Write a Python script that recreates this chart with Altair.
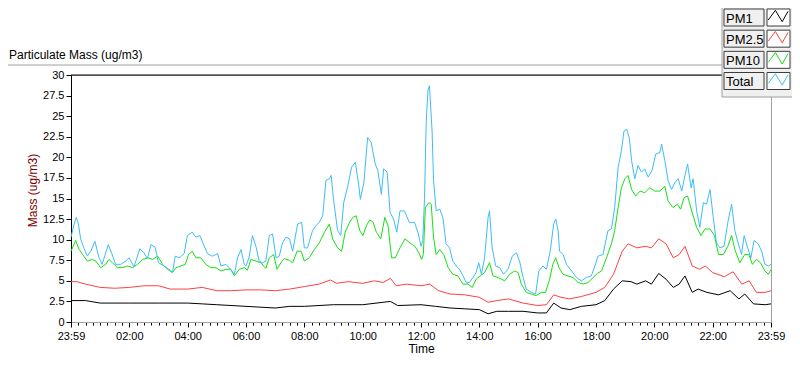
import altair as alt
import pandas as pd

SERIES = ["PM1", "PM2.5", "PM10", "Total"]
COLORS = ["#000000", "#ff4040", "#14e014", "#3dbdf7"]

TITLE = "Particulate Mass (ug/m3)"
X_TITLE = "Time"
Y_TITLE = "Mass (ug/m3)"

# hours since 23:59 of the previous day
PM1_T = [0, 0.5, 1.0, 2.0, 3.0, 4.0, 4.5, 5.0, 6.0, 7.0, 7.5, 8.0, 9.0, 10.0, 10.95, 11.2,
         12.0, 12.5, 13.0, 13.5, 14.0, 14.3, 14.6, 15.0, 15.5, 16.0, 16.3, 16.55, 16.8, 17.1,
         17.5, 18.0, 18.3, 18.6, 18.9, 19.2, 19.4, 19.7, 19.9, 20.15, 20.4, 20.65, 20.85,
         21.05, 21.3, 21.5, 21.8, 22.2, 22.6, 22.9, 23.1, 23.4, 23.8, 24]
PM1_V = [2.6, 2.6, 2.3, 2.3, 2.3, 2.3, 2.2, 2.1, 1.9, 1.7, 1.9, 1.9, 2.1, 2.1, 2.5, 2.0,
         2.1, 1.9, 1.7, 1.6, 1.5, 1.0, 1.3, 1.3, 1.3, 1.1, 1.1, 2.3, 1.7, 1.5,
         1.9, 2.1, 2.6, 4.0, 5.0, 4.9, 4.6, 5.0, 4.6, 5.9, 5.2, 4.2, 4.6,
         5.6, 3.6, 4.0, 3.6, 3.3, 3.8, 2.8, 3.4, 2.2, 2.1, 2.2]

PM25_T = [0, 0.2, 0.5, 1.0, 1.5, 2.0, 2.5, 3.0, 3.4, 4.0, 4.5, 5.0, 5.5, 6.0, 6.5, 7.0, 7.5,
          8.0, 8.5, 8.9, 9.1, 9.5, 10.0, 10.4, 10.7, 10.95, 11.15, 11.5, 12.0, 12.3, 12.6,
          13.0, 13.5, 14.0, 14.3, 14.6, 15.0, 15.5, 16.0, 16.3, 16.55, 16.8, 17.1, 17.5,
          18.0, 18.3, 18.6, 18.9, 19.1, 19.4, 19.7, 19.9, 20.15, 20.4, 20.65, 20.85, 21.05,
          21.3, 21.55, 21.75, 22.0, 22.4, 22.7, 23.0, 23.25, 23.5, 23.8, 24]
PM25_V = [4.9, 4.9, 4.6, 4.2, 4.1, 4.2, 4.4, 4.4, 4.0, 4.0, 4.2, 3.8, 3.8, 3.9, 3.9, 3.8, 4.0,
          4.3, 4.6, 5.1, 4.7, 4.9, 4.7, 5.0, 4.8, 5.3, 4.4, 4.6, 4.4, 4.6, 3.8,
          3.4, 3.3, 3.0, 2.4, 2.6, 2.8, 2.3, 2.0, 2.1, 3.3, 3.0, 2.8, 3.1,
          3.6, 4.2, 5.8, 8.6, 9.5, 9.0, 9.2, 9.0, 10.1, 9.5, 7.8, 8.2, 9.2,
          6.8, 6.4, 6.8, 6.0, 5.5, 6.1, 4.6, 5.0, 3.6, 3.6, 3.8]

PM10_T = [0, 0.16, 0.28, 0.4, 0.56, 0.73, 0.85, 1.02, 1.19, 1.3, 1.42, 1.59, 1.76, 1.94, 2.11,
          2.28, 2.46, 2.63, 2.8, 2.97, 3.14, 3.31, 3.48, 3.6, 3.77, 3.92, 4.03, 4.16, 4.28,
          4.45, 4.62, 4.8, 4.97, 5.14, 5.31, 5.48, 5.6, 5.77, 5.94, 6.05, 6.17, 6.34, 6.51,
          6.68, 6.8, 6.95, 7.06, 7.2, 7.31, 7.49, 7.6, 7.75, 7.89, 8.0, 8.17, 8.34, 8.51,
          8.69, 8.86, 8.97, 9.14, 9.28, 9.4, 9.55, 9.66, 9.78, 9.9, 10.01, 10.13, 10.24,
          10.36, 10.47, 10.62, 10.76, 10.87, 10.99, 11.12, 11.28, 11.45, 11.62, 11.79, 11.93,
          12.02, 12.08, 12.15, 12.27, 12.35, 12.43, 12.52, 12.64, 12.78, 12.93, 13.09, 13.26,
          13.44, 13.61, 13.76, 13.89, 14.03, 14.18, 14.35, 14.47, 14.64, 14.87, 15.04, 15.21,
          15.33, 15.44, 15.61, 15.78, 15.95, 16.12, 16.27, 16.41, 16.52, 16.62, 16.73, 16.87,
          17.04, 17.21, 17.39, 17.56, 17.73, 17.9, 18.05, 18.19, 18.36, 18.53, 18.64, 18.76,
          18.87, 18.99, 19.1, 19.22, 19.36, 19.51, 19.67, 19.84, 20.02, 20.19, 20.36, 20.47,
          20.64, 20.79, 20.9, 21.02, 21.14, 21.28, 21.45, 21.6, 21.74, 21.91, 22.06, 22.2,
          22.37, 22.52, 22.65, 22.76, 22.93, 23.1, 23.24, 23.36, 23.5, 23.64, 23.79, 23.91, 24]
PM10_V = [8.6, 9.9, 8.8, 8.2, 7.4, 7.6, 7.4, 6.6, 7.0, 7.6, 7.2, 6.6, 6.6, 6.8, 6.6,
          7.0, 7.6, 7.8, 7.6, 8.0, 7.0, 6.4, 6.0, 6.6, 6.8, 7.0, 8.2, 8.6, 7.8,
          7.8, 7.0, 6.6, 6.6, 6.2, 6.4, 6.4, 5.6, 6.4, 6.6, 6.3, 7.6, 7.4, 7.2,
          6.5, 7.8, 8.2, 6.4, 7.2, 7.7, 7.5, 7.2, 8.6, 8.6, 7.4, 7.8, 8.8, 9.6,
          10.9, 11.9, 10.1, 9.0, 8.6, 10.9, 12.1, 12.7, 12.9, 11.1, 10.5, 11.7, 12.4,
          12.1, 10.9, 10.1, 12.7, 11.7, 7.8, 7.8, 9.0, 10.1, 9.6, 9.2, 8.4,
          7.6, 8.2, 13.9, 14.5, 14.3, 10.3, 8.2, 8.8, 8.2, 6.6, 5.8, 5.6,
          4.6, 4.6, 4.2, 5.2, 5.6, 6.0, 7.2, 5.6, 5.4, 5.0, 5.8, 6.2,
          6.0, 4.6, 3.6, 3.4, 3.2, 3.6, 3.6, 5.2, 7.0, 7.8, 6.6, 5.8,
          5.6, 5.4, 4.8, 4.6, 4.8, 5.4, 5.9, 6.2, 7.8, 9.5, 11.1, 13.9,
          16.3, 17.4, 17.8, 16.1, 15.3, 15.9, 15.7, 16.3, 15.9, 15.9, 16.5, 14.7,
          13.9, 14.3, 13.7, 15.1, 15.3, 13.5, 11.5, 10.5, 11.3, 11.3, 10.5, 8.2,
          8.2, 9.2, 10.5, 8.8, 7.2, 8.2, 8.2, 7.0, 7.6, 7.2, 6.2, 5.8, 6.4]

TOTAL_T = [0, 0.1, 0.18, 0.25, 0.33, 0.45, 0.56, 0.68, 0.82, 0.96, 1.07, 1.19, 1.28, 1.4, 1.53,
           1.7, 1.88, 1.99, 2.16, 2.36, 2.5, 2.62, 2.74, 2.88, 3.0, 3.19, 3.36, 3.48, 3.57,
           3.71, 3.88, 3.99, 4.16, 4.28, 4.42, 4.57, 4.68, 4.85, 5.03, 5.14, 5.31, 5.42, 5.6,
           5.71, 5.83, 5.94, 6.0, 6.11, 6.22, 6.34, 6.45, 6.57, 6.68, 6.8, 6.91, 7.03, 7.14,
           7.25, 7.37, 7.49, 7.6, 7.77, 7.91, 8.0, 8.11, 8.28, 8.4, 8.51, 8.63, 8.74, 8.86,
           8.92, 9.0, 9.14, 9.25, 9.35, 9.49, 9.62, 9.75, 9.87, 9.92, 10.04, 10.17, 10.29,
           10.43, 10.52, 10.64, 10.72, 10.84, 10.94, 11.06, 11.17, 11.28, 11.43, 11.6, 11.78,
           11.91, 12.0, 12.06, 12.12, 12.18, 12.24, 12.29, 12.38, 12.43, 12.52, 12.64, 12.75,
           12.86, 12.98, 13.09, 13.21, 13.32, 13.44, 13.55, 13.66, 13.78, 13.89, 13.98, 14.07,
           14.18, 14.3, 14.35, 14.44, 14.56, 14.7, 14.83, 14.98, 15.13, 15.27, 15.38, 15.5,
           15.61, 15.78, 15.93, 16.04, 16.18, 16.3, 16.43, 16.55, 16.62, 16.7, 16.75, 16.87,
           16.99, 17.16, 17.33, 17.5, 17.67, 17.84, 17.96, 18.07, 18.24, 18.41, 18.53, 18.64,
           18.76, 18.87, 18.96, 19.05, 19.14, 19.22, 19.33, 19.44, 19.56, 19.67, 19.79, 19.92,
           20.05, 20.19, 20.25, 20.36, 20.47, 20.59, 20.7, 20.82, 20.94, 21.05, 21.14, 21.26,
           21.33, 21.45, 21.56, 21.68, 21.79, 21.91, 22.02, 22.13, 22.25, 22.39, 22.53, 22.65,
           22.76, 22.88, 22.99, 23.08, 23.2, 23.31, 23.42, 23.56, 23.68, 23.79, 23.91, 24]
TOTAL_V = [10.3, 11.8, 12.7, 12.0, 10.1, 8.9, 8.0, 8.6, 9.8, 7.8, 7.0, 8.4, 9.4, 8.3, 7.0,
           7.0, 7.4, 7.8, 6.7, 8.9, 8.4, 7.7, 9.4, 9.1, 7.2, 6.8, 6.4, 6.0, 8.0,
           7.8, 8.3, 10.5, 10.9, 10.3, 10.5, 9.2, 8.3, 8.0, 8.3, 6.8, 7.0, 6.6, 5.8,
           7.8, 8.8, 7.0, 6.8, 7.9, 10.5, 9.2, 7.4, 7.2, 7.4, 10.5, 10.7, 7.8, 8.0,
           9.6, 10.3, 10.1, 8.6, 11.9, 12.1, 9.0, 9.0, 11.1, 11.7, 12.1, 12.9, 17.2, 17.4,
           17.8, 14.9, 11.1, 10.5, 14.5, 16.5, 18.8, 19.4, 16.5, 14.9, 16.9, 22.4, 21.8,
           19.2, 18.4, 15.5, 18.6, 18.2, 13.3, 12.5, 10.9, 13.5, 13.5, 12.1, 12.1,
           10.7, 9.2, 9.9, 15.0, 24.5, 28.2, 28.7, 23.2, 17.2, 13.5, 13.7, 12.7,
           9.5, 9.0, 7.4, 6.8, 6.4, 5.6, 4.8, 4.8, 5.4, 6.0, 7.2, 5.8,
           7.8, 12.7, 13.5, 9.0, 6.8, 6.6, 5.8, 6.4, 8.0, 8.4, 7.4, 5.4,
           4.0, 3.6, 3.4, 6.2, 6.8, 6.4, 8.6, 11.9, 12.5, 11.1, 8.6, 8.2,
           7.0, 6.2, 5.4, 5.0, 5.4, 5.6, 6.8, 8.0, 8.2, 11.1, 11.3, 13.9,
           18.8, 20.8, 23.2, 23.4, 22.4, 19.6, 17.4, 19.0, 18.2, 18.6, 17.6, 18.4,
           20.4, 20.6, 21.6, 19.6, 17.2, 16.1, 16.9, 17.4, 15.9, 17.8, 19.2, 16.3,
           17.4, 13.5, 11.5, 14.5, 14.3, 16.1, 12.7, 9.6, 9.0, 9.2, 12.3, 14.3,
           11.1, 9.5, 8.2, 10.5, 9.0, 7.8, 9.9, 9.5, 8.6, 7.0, 6.8, 7.0]

X_TICKS = [i * 0.25 for i in range(97)]
Y_TICKS = [i * 2.5 for i in range(13)]

rows = []
for name, ts, vs in [("PM1", PM1_T, PM1_V), ("PM2.5", PM25_T, PM25_V),
                     ("PM10", PM10_T, PM10_V), ("Total", TOTAL_T, TOTAL_V)]:
    for t, v in zip(ts, vs):
        rows.append({"series": name, "t": t, "v": v})
df = pd.DataFrame(rows)
legend_df = pd.DataFrame({"name": SERIES})
one = pd.DataFrame({"k": [0]})

FONT = "Liberation Sans"
W, H = 700, 247

color = alt.Color("series:N", scale=alt.Scale(domain=SERIES, range=COLORS), legend=None)

x_label_expr = ("datum.value == 0 || datum.value == 24 ? '23:59' : "
                "(datum.value % 2 == 0 ? (datum.value < 10 ? '0' : '') + datum.value + ':00' : '')")

lines = alt.Chart(df).mark_line(strokeWidth=1, interpolate="linear").encode(
    x=alt.X("t:Q", scale=alt.Scale(domain=[0, 24], nice=False, zero=False),
            axis=alt.Axis(values=X_TICKS, labelExpr=x_label_expr, labelOverlap=False,
                          labelFlush=False, grid=False,
                          tickSize={"condition": {"test": "datum.value % 2 == 0", "value": 5}, "value": 3},
                          tickColor="black", domainColor="#a0a0a0",
                          labelFont=FONT, labelFontSize=11, labelColor="black", labelPadding=3,
                          title=X_TITLE, titleFont=FONT, titleFontSize=12, titleFontWeight="normal",
                          titleColor="black", titleY=30, titleBaseline="alphabetic")),
    y=alt.Y("v:Q", scale=alt.Scale(domain=[0, 30], nice=False),
            axis=alt.Axis(values=Y_TICKS, labelExpr="datum.value + ''", grid=False,
                          tickSize=5, tickColor="black", domainColor="black",
                          labelFont=FONT, labelFontSize=11, labelColor="black", labelPadding=2,
                          title=Y_TITLE, titleFont=FONT, titleFontSize=12, titleFontWeight="normal",
                          titleColor="#800000", titleX=-39, titleY=115, titleAngle=-90,
                          titleBaseline="middle", titleAlign="center")),
    color=color,
    order=alt.Order("t:Q"),
)

top_rule = alt.Chart(one).mark_rule(color="black", strokeWidth=1).encode(
    x=alt.value(0), x2=alt.value(W), y=alt.value(0))

title_rule = alt.Chart(one).mark_rule(color="#a0a0a0", strokeWidth=1).encode(
    x=alt.value(-63), x2=alt.value(651), y=alt.value(-10))

title_text = alt.Chart(one).mark_text(align="left", baseline="middle", font=FONT,
                                      fontSize=12, color="black").encode(
    x=alt.value(-62), y=alt.value(-20), text=alt.value(TITLE))

panel = alt.Chart(one).mark_rect(fill="#f0f0f0", stroke="#a0a0a0", strokeWidth=1).encode(
    x=alt.value(651), x2=alt.value(760), y=alt.value(-90), y2=alt.value(22))

leg_y = alt.Y("name:N", scale=alt.Scale(type="point", domain=SERIES, range=[-57.5, 6], padding=0),
              axis=None)

text_box = alt.Chart(legend_df).mark_point(
    shape="M-1,-0.425L1,-0.425L1,0.425L-1,0.425Z", size=1600, filled=True,
    fill="#f0f0f0", stroke="#3c3c3c", strokeWidth=1, opacity=1).encode(
    x=alt.value(673), y=leg_y)

swatch_box = alt.Chart(legend_df).mark_point(
    shape="M-1,-0.74L1,-0.74L1,0.74L-1,0.74Z", size=529, filled=True,
    fill="white", stroke="#3c3c3c", strokeWidth=1, opacity=1).encode(
    x=alt.value(707.5), y=leg_y)

glyph = alt.Chart(legend_df).mark_point(
    shape="M-0.98,0.25L-0.26,-0.72L0.42,0.42L1,-0.62", size=400, filled=False,
    strokeWidth=1, opacity=1).encode(
    x=alt.value(707), y=leg_y,
    color=alt.Color("name:N", scale=alt.Scale(domain=SERIES, range=COLORS), legend=None))

leg_text = alt.Chart(legend_df).mark_text(align="left", baseline="middle", font=FONT,
                                          fontSize=13, color="black", dy=1).encode(
    x=alt.value(655), y=leg_y, text="name:N")

chart = alt.layer(
    lines, top_rule, title_rule, title_text, panel, text_box, swatch_box, glyph, leg_text
).resolve_scale(y="independent").properties(
    width=W, height=H,
    padding={"left": 63, "top": 67, "right": 21, "bottom": 35},
    autosize=alt.AutoSizeParams(type="none"),
    background="white",
).configure_view(stroke="#a0a0a0", strokeWidth=1)

chart.save("out.html", embed_options={"renderer": "svg", "actions": False})
